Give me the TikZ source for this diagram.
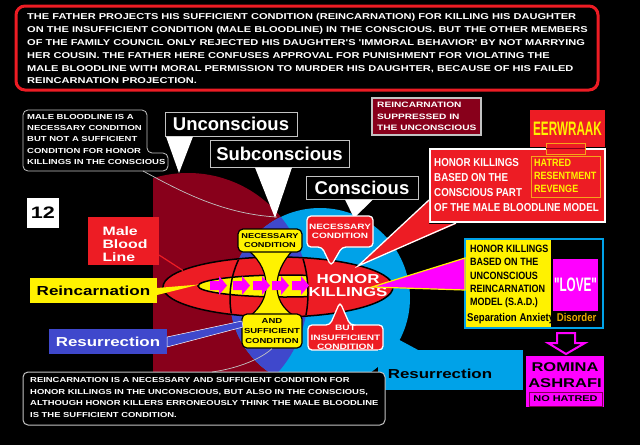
\documentclass[tikz,border=0pt]{standalone}
\usepackage{fontspec}
\setmainfont{Liberation Sans}
\newfontfamily\widefam[FakeStretch=1.3]{Liberation Sans}
\newfontfamily\narrowfam[FakeStretch=0.85]{Liberation Sans}
\newfontfamily\condfam[FakeStretch=0.6]{Liberation Sans}
\newcommand{\mywf}[2]{\widefam\bfseries\fontsize{#1}{#2}\selectfont}
\newcommand{\mynf}[2]{\narrowfam\bfseries\fontsize{#1}{#2}\selectfont}
\newcommand{\mycf}[2]{\condfam\bfseries\fontsize{#1}{#2}\selectfont}
\newcommand{\mybf}[2]{\bfseries\fontsize{#1}{#2}\selectfont}
\definecolor{cred}{HTML}{ED1C24}
\definecolor{cdark}{HTML}{88001B}
\definecolor{cyel}{HTML}{FFF200}
\definecolor{ccyan}{HTML}{00A2E8}
\definecolor{cblue}{HTML}{3F48CC}
\definecolor{cmag}{HTML}{FF00FF}
\definecolor{cgold}{HTML}{E8A800}
\definecolor{cgray}{HTML}{C3C3C3}
\definecolor{corange}{HTML}{F7A21B}
\definecolor{cpurple}{HTML}{7F0050}
\begin{document}
\begin{tikzpicture}[x=1pt,y=-1pt,
  txt/.style={inner sep=0pt, align=center},
  lbox/.style={draw=cgray, line width=1pt, fill=black, text=white, inner sep=0pt, font=\mybf{18.5}{20}},
  redcall/.style={fill=cred, draw=white, line width=1.3pt, rounded corners=4pt},
  ybox/.style={fill=cyel, draw=black, line width=1.2pt, rounded corners=5pt, inner sep=0pt, align=center},
  thinline/.style={cgray, line width=0.7pt}]
\useasboundingbox (0,0) rectangle (640,445);
\fill[black] (0,0) rectangle (640,445);

% top box
\node[draw=cred, line width=3pt, rounded corners=9pt, fill=black, minimum width=582pt, minimum height=84pt, inner sep=0pt] (topbox) at (307,48) {};
\node[txt, align=left, anchor=north west, text=white, font=\mywf{8.5}{12.8}] (toptext) at (27,13.5) {THE FATHER PROJECTS HIS SUFFICIENT CONDITION (REINCARNATION) FOR  KILLING HIS DAUGHTER\\ON THE INSUFFICIENT CONDITION (MALE BLOODLINE) IN THE CONSCIOUS. BUT THE OTHER MEMBERS\\OF THE FAMILY COUNCIL ONLY REJECTED HIS DAUGHTER'S 'IMMORAL BEHAVIOR' BY NOT  MARRYING\\HER COUSIN.  THE FATHER HERE CONFUSES APPROVAL FOR PUNISHMENT FOR VIOLATING THE\\MALE BLOODLINE WITH MORAL PERMISSION TO MURDER HIS DAUGHTER, BECAUSE OF HIS FAILED\\REINCARNATION PROJECTION.};

% regions
\begin{scope}
\clip (153,100) rectangle (640,445);
\fill[cdark] (188,293) circle (120pt);
\end{scope}
\fill[ccyan] (320,298) circle (90pt);
\begin{scope}
\clip (188,293) circle (120pt);
\fill[cblue] (320,298) circle (90pt);
\end{scope}

% red ellipse
\filldraw[fill=cred, draw=black, line width=1.5pt] (278,287) ellipse [x radius=115pt, y radius=30pt];
\begin{scope}
\clip (188,293) circle (120pt);
\filldraw[fill=cyel, draw=black, line width=1.5pt] (285,286) ellipse [x radius=87pt, y radius=11pt];
\end{scope}
\begin{scope}
\clip (278,287) ellipse [x radius=114pt, y radius=29pt];
\begin{scope}
\clip (188,293) circle (120pt);
\draw[black, line width=1.5pt] (320,298) circle (90pt);
\end{scope}
\begin{scope}
\clip (320,298) circle (90pt);
\draw[black, line width=1.5pt] (188,293) circle (120pt);
\end{scope}
\end{scope}

% hourglass
\filldraw[fill=cyel, draw=black, line width=1.2pt] (248,250) .. controls (262,262) and (266,274) .. (266,286) .. controls (266,298) and (260,308) .. (250,316) -- (294,316) .. controls (282,308) and (277,298) .. (277,286) .. controls (277,274) and (282,262) .. (293,250) -- cycle;
\node[ybox, minimum width=64pt, minimum height=23pt, font=\mywf{7.1}{9.5}] (ync) at (270,240.5) {NECESSARY\\CONDITION};
\node[ybox, minimum width=60pt, minimum height=34pt, font=\mywf{7.3}{9.7}] (ysc) at (272,331) {AND\\SUFFICIENT\\CONDITION};

% arrows
\foreach \x in {210,233,253,272,292}{
  \fill[cmag] (\x,281) -- ({\x+9},281) -- ({\x+9},276) -- ({\x+17},285.5) -- ({\x+9},295) -- ({\x+9},290) -- (\x,290) -- cycle;
}

\node[txt, text=white, font=\mywf{13}{13.5}] (hk) at (348,285.5) {HONOR\\KILLINGS};

% label boxes and pointers
\node[lbox, minimum width=132pt, minimum height=24pt] (uncon) at (231,124) {Unconscious};
\fill[white] (166,136.5) -- (193,136.5) -- (179,173) -- cycle;
\node[lbox, minimum width=139pt, minimum height=27pt] (subcon) at (279.5,153.5) {Subconscious};
\fill[white] (255,167.5) -- (292,167.5) -- (275,218) -- cycle;
\node[lbox, minimum width=112pt, minimum height=23pt] (con) at (362,187.5) {Conscious};
\fill[white] (345,199.5) -- (373,199.5) -- (354,218) -- cycle;

% red callouts
\filldraw[redcall] (307,216) -- (373,216) -- (373,247) -- (342,247) -- (331,266) -- (322,247) -- (307,247) -- cycle;
\node[txt, text=white, font=\mywf{7.7}{9.5}] (rnc) at (340,231.5) {NECESSARY\\CONDITION};
\filldraw[redcall] (308,325) -- (330,325) -- (340,302) -- (350,325) -- (383,325) -- (383,350) -- (308,350) -- cycle;
\node[txt, text=white, font=\mywf{7.8}{9.5}] (rbi) at (345.5,337.5) {BUT\\INSUFFICIENT\\CONDITION};

% left callout
\filldraw[fill=black, draw=cgray, line width=0.8pt, rounded corners=5pt] (23,110) -- (147,110) -- (147,153) -- (168,153) -- (168,171) -- (23,171) -- cycle;
\node[txt, align=left, anchor=north west, text=white, font=\mywf{7.3}{11.3}] (lctext) at (27,114) {MALE BLOODLINE IS A\\NECESSARY CONDITION\\BUT NOT A SUFFICIENT\\CONDITION FOR HONOR\\KILLINGS IN THE CONSCIOUS};
\coordinate (lensTop) at (277,217);
\coordinate (lcTail) at (143,171);
\draw[thinline] (lcTail) .. controls (175,188) and (220,214) .. (lensTop);

% left boxes
\node[fill=white, minimum width=32pt, minimum height=30pt, inner sep=0pt, font=\mywf{16.6}{18}] (num) at (43,213) {12};
\node[fill=cred, minimum width=71pt, minimum height=48pt, inner sep=0pt] (mbl) at (123.5,241) {};
\node[txt, align=left, text=white, font=\mywf{12.2}{13}] (mbltext) at (125,244) {Male\\Blood\\Line};
\coordinate (mblEnd) at (183,270.5);
\draw[cred, line width=1.2pt] (159,255) -- (mblEnd);
\node[fill=cyel, minimum width=127pt, minimum height=25pt, inner sep=0pt, font=\mywf{13.1}{14}] (reinc) at (93.5,290.5) {Reincarnation};
\fill[cyel] (157,288) -- (199,284.5) -- (157,295) -- cycle;
\node[fill=cblue, minimum width=118pt, minimum height=25pt, inner sep=0pt, text=white, font=\mywf{13}{14}] (resl) at (108,341.5) {Resurrection};
\filldraw[fill=cblue, draw=white, line width=0.5pt] (167,337) -- (242,321) -- (243,327) -- (167,347) -- cycle;

% reincarnation suppressed
\node[fill=cdark, draw=cgray, line width=1.5pt, minimum width=109pt, minimum height=37pt, inner sep=0pt] (rsup) at (426.5,116.5) {};
\node[txt, align=left, anchor=north west, text=white, font=\mywf{7.8}{11.5}] (rsuptext) at (377,102) {REINCARNATION\\SUPPRESSED IN\\THE UNCONSCIOUS};

% big red callout
\node[fill=cred, draw=white, line width=1.3pt, minimum width=175pt, minimum height=73pt, inner sep=0pt] (hkc) at (517.5,185.5) {};
\fill[cred] (358,266) -- (429,200) -- (429,224) -- (456,224) -- cycle;
\draw[white, line width=1.3pt] (429,200) -- (358,266) -- (456,223);
\node[txt, align=left, anchor=north west, text=white, font=\mynf{11.5}{15}] (hkctext) at (434,158) {HONOR KILLINGS\\BASED ON THE\\CONSCIOUS PART\\OF THE MALE BLOODLINE MODEL};
\node[draw=corange, line width=0.8pt, minimum width=69pt, minimum height=41pt, inner sep=0pt] (hat) at (565.5,176.5) {};
\node[txt, align=left, anchor=north west, text=cyel, font=\mynf{10.6}{13}] (hattext) at (534,159.5) {HATRED\\RESENTMENT\\REVENGE};
\node[fill=cred, minimum width=75pt, minimum height=37pt, inner sep=0pt, text=cyel, font=\mycf{19.5}{20}] (eer) at (567.5,128.5) {EERWRAAK};
\filldraw[fill=cred, draw=corange, line width=0.8pt] (546,143) rectangle (585,154);
\draw[cdark, line width=0.6pt] (546,148.5) -- (585,148.5);

% SAD block
\fill[cyel] (465,239) rectangle (551,328);
\node[draw=ccyan, line width=1.5pt, minimum width=138pt, minimum height=89pt, inner sep=0pt] (sadframe) at (534,283.5) {};
\node[fill=cmag, minimum width=45pt, minimum height=52pt, inner sep=0pt, text=white, font=\mycf{19.5}{20}] (love) at (575.5,285) {"LOVE"};
\node[txt, align=left, anchor=north west, text=black, font=\mynf{10.6}{13.2}] (sadtext) at (470,245) {HONOR KILLINGS\\BASED ON THE\\UNCONSCIOUS\\REINCARNATION\\MODEL (S.A.D.)};
\node[txt, anchor=west, text=black, font=\mynf{11.3}{12}] (septext) at (467,319) {Separation Anxiety \textcolor{cgold}{Disorder}};

% magenta wedge
\filldraw[fill=cmag, draw=cyel, line width=1.2pt] (372,287) -- (465,258) -- (465,290) -- cycle;

% Romina
\draw[cmag, line width=2pt] (557,333) -- (575,333) -- (575,343) -- (585,343) -- (566,354) -- (548,343) -- (557,343) -- cycle;
\node[fill=cmag, minimum width=78pt, minimum height=51pt, inner sep=0pt] (romina) at (565,381.5) {};
\node[txt, text=black, font=\mywf{12.7}{16}] (romtext) at (565,375) {ROMINA\\ASHRAFI};
\node[draw=cpurple, line width=0.8pt, minimum width=73pt, minimum height=14pt, inner sep=0pt, font=\mywf{8.4}{9}] (nohat) at (565.5,399) {NO HATRED};

% cyan resurrection
\fill[ccyan] (392,336) -- (420,351) -- (390,351) -- cycle;
\node[fill=ccyan, minimum width=145pt, minimum height=40pt, inner sep=0pt] (resc) at (450.5,370) {};
\node[txt, text=black, font=\mywf{13}{14}] (resctext) at (440,374) {Resurrection};

% bottom box
\node[draw=cgray, line width=1pt, rounded corners=5pt, fill=black, minimum width=362pt, minimum height=53pt, inner sep=0pt] (botbox) at (204,398.5) {};
\node[txt, align=left, anchor=north west, text=white, font=\mywf{7.25}{11.6}] (bottext) at (30,377.4) {REINCARNATION IS A NECESSARY AND SUFFICIENT CONDITION FOR\\HONOR KILLINGS IN THE UNCONSCIOUS, BUT ALSO IN THE CONSCIOUS,\\ALTHOUGH HONOR KILLERS ERRONEOUSLY THINK THE MALE BLOODLINE\\IS THE SUFFICIENT CONDITION.};
\coordinate (botTail) at (212,372);
\draw[thinline] (botTail) .. controls (240,368) and (262,358) .. (ysc.south);
\end{tikzpicture}
\end{document}
